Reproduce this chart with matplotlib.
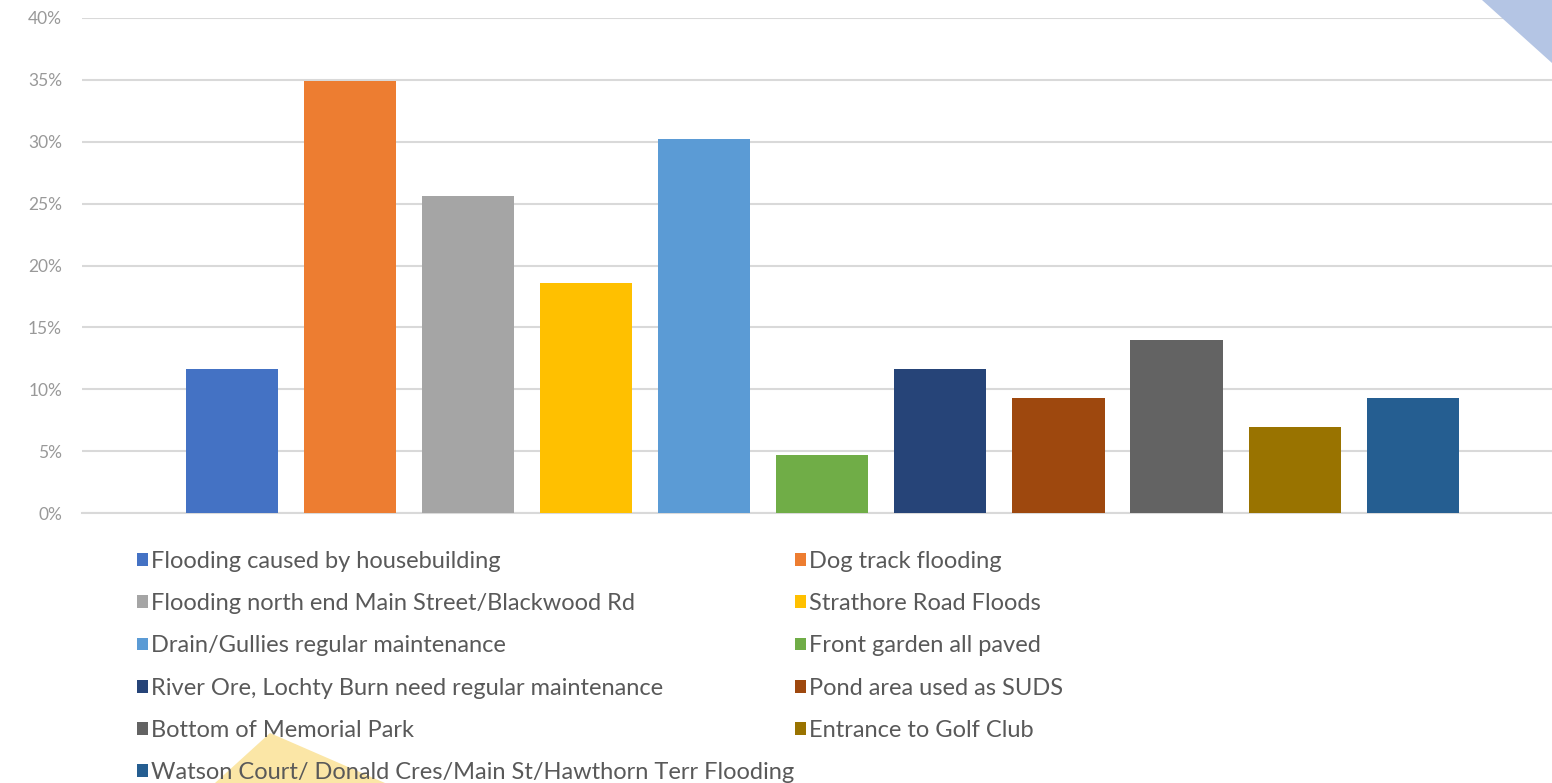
import matplotlib.pyplot as plt
from matplotlib.patches import Polygon
from matplotlib.ticker import PercentFormatter

# survey answers (share of respondents)
categories = [
    "Flooding caused by housebuilding",
    "Dog track flooding",
    "Flooding north end Main Street/Blackwood Rd",
    "Strathore Road Floods",
    "Drain/Gullies regular maintenance",
    "Front garden all paved",
    "River Ore, Lochty Burn need regular maintenance",
    "Pond area used as SUDS",
    "Bottom of Memorial Park",
    "Entrance to Golf Club",
    "Watson Court/ Donald Cres/Main St/Hawthorn Terr Flooding",
]
values = [0.1163, 0.3488, 0.2558, 0.1860, 0.3023, 0.0465,
          0.1163, 0.0930, 0.1395, 0.0698, 0.0930]
colors = ["#4472C4", "#ED7D31", "#A5A5A5", "#FFC000", "#5B9BD5", "#70AD47",
          "#264478", "#9E480E", "#636363", "#997300", "#255E91"]
yticks = [0, 0.05, 0.10, 0.15, 0.20, 0.25, 0.30, 0.35, 0.40]

plt.rcParams['font.family'] = ['Lato', 'DejaVu Sans']

W, H = 1552, 783
fig = plt.figure(figsize=(W / 100, H / 100), dpi=100)
ax = fig.add_axes([82 / W, 1 - 513 / H, 1 - 82 / W, (513 - 18) / H])

bars = []
for i, (cat, v, c) in enumerate(zip(categories, values, colors)):
    bars.append(ax.bar(i, v, width=0.78, color=c, label=cat, zorder=3))

ax.set_xlim(-1.27, 11.18)
ax.set_ylim(0, 0.40)
ax.set_yticks(yticks)
ax.yaxis.set_major_formatter(PercentFormatter(1.0, decimals=0))
ax.tick_params(axis='y', length=0, pad=14.4, labelsize=12.5, labelcolor='#999999')
ax.set_xticks([])
ax.grid(axis='y', color='#d9d9d9', linewidth=1.5, zorder=0)
for s in ['top', 'right', 'left']:
    ax.spines[s].set_visible(False)
ax.spines['bottom'].set_color('#d9d9d9')
ax.spines['bottom'].set_linewidth(1.5)

# legend: two columns, filled row by row
legend_style = dict(loc='upper left', frameon=False, fontsize=17,
                    labelcolor='#595959', handlelength=0.45, handleheight=0.45,
                    handletextpad=0.15, labelspacing=0.9, borderpad=0,
                    borderaxespad=0)
left_col = [0, 2, 4, 6, 8, 10]
right_col = [1, 3, 5, 7, 9]
fig.legend([bars[i] for i in left_col], [categories[i] for i in left_col],
           bbox_to_anchor=(137 / W, 1 - 551 / H), **legend_style)
fig.legend([bars[i] for i in right_col], [categories[i] for i in right_col],
           bbox_to_anchor=(795 / W, 1 - 551 / H), **legend_style)

# decorative slide shapes
fig.patches.append(Polygon([[1482 / W, 1], [1, 1], [1, 1 - 63 / H]],
                           closed=True, transform=fig.transFigure,
                           facecolor='#b4c5e4', edgecolor='none', zorder=0))
fig.patches.append(Polygon([[270 / W, 1 - 733 / H], [215 / W, 0], [385 / W, 0]],
                           closed=True, transform=fig.transFigure,
                           facecolor='#fbe6a6', edgecolor='none', zorder=0))

plt.savefig('out.png', dpi=100)
